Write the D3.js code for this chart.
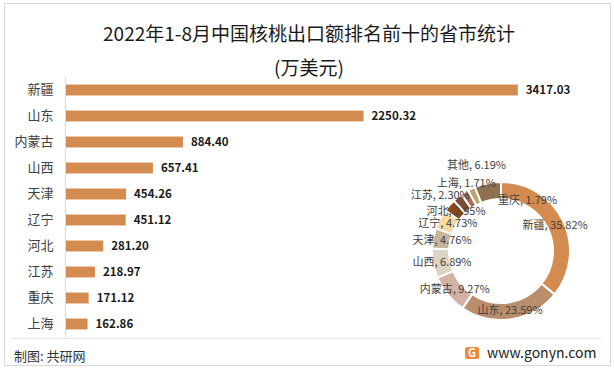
<!DOCTYPE html>
<html>
<head>
<meta charset="utf-8">
<script src="https://cdn.jsdelivr.net/npm/d3@7"></script>
<style>
  body { margin: 0; background: #fff; }
  svg text { font-family: "Noto Sans CJK SC", "Noto Sans", sans-serif; }
</style>
</head>
<body>
<div id="chart"></div>
<script>
// bar data
const provinces = ['新疆', '山东', '内蒙古', '山西', '天津', '辽宁', '河北', '江苏', '重庆', '上海'];
const exportValues = [3417.03, 2250.32, 884.40, 657.41, 454.26, 451.12, 281.20, 218.97, 171.12, 162.86];

// donut data
const shareNames = ['新疆', '山东', '内蒙古', '山西', '天津', '辽宁', '河北', '江苏', '重庆', '上海', '其他'];
const sharePercents = [35.82, 23.59, 9.27, 6.89, 4.76, 4.73, 2.95, 2.30, 1.79, 1.71, 6.19];
const shareColors = ['#D38B4F', '#BA8D6C', '#D3B3A5', '#DCD5C3', '#C8B499', '#F8D9A0',
                     '#8B4A1B', '#7B4B33', '#A86A50', '#BBA46F', '#8D7150'];
// labels that excel pushed away from the slice centroid
const labelShift = { '江苏': [-23, -9], '重庆': [58, 0], '上海': [-9, -14], '其他': [-13, -27] };

const width = 614, height = 372;
const svg = d3.select('#chart').append('svg')
  .attr('width', width)
  .attr('height', height);

// outer frame
svg.append('rect')
  .attr('x', 4.5).attr('y', 3.5)
  .attr('width', 606).attr('height', 362)
  .attr('fill', '#fff')
  .attr('stroke', '#d9d9d9');

// title
svg.append('text')
  .attr('x', 309).attr('y', 41)
  .attr('text-anchor', 'middle')
  .attr('font-size', 19)
  .attr('fill', '#1a1a1a')
  .text('2022年1-8月中国核桃出口额排名前十的省市统计');
svg.append('text')
  .attr('x', 309).attr('y', 75)
  .attr('text-anchor', 'middle')
  .attr('font-size', 19)
  .attr('fill', '#1a1a1a')
  .text('(万美元)');

// bar chart
const x = d3.scaleLinear().domain([0, 3600]).range([66, 542]);
const y = d3.scaleBand().domain(provinces).range([77, 337])
  .paddingInner(0.58).paddingOuter(0.29);

const bars = svg.append('g');
bars.selectAll('rect')
  .data(provinces)
  .enter()
  .append('rect')
  .attr('x', x(0))
  .attr('y', d => y(d))
  .attr('width', (d, i) => x(exportValues[i]) - x(0))
  .attr('height', y.bandwidth())
  .attr('fill', '#D38B4F');

bars.selectAll('.val')
  .data(provinces)
  .enter()
  .append('text')
  .attr('class', 'val')
  .attr('x', (d, i) => x(exportValues[i]) + 8)
  .attr('y', d => y(d) + y.bandwidth() / 2)
  .attr('dy', '0.36em')
  .attr('font-family', '"Noto Sans", sans-serif')
  .attr('font-weight', 'bold')
  .attr('font-size', 11.5)
  .attr('fill', '#1a1a1a')
  .text((d, i) => exportValues[i].toFixed(2));

// category axis
const yAxis = svg.append('g')
  .attr('transform', 'translate(65.5,0)')
  .call(d3.axisLeft(y).tickSize(0).tickPadding(12));
yAxis.select('.domain').attr('stroke', '#d9d9d9').attr('d', 'M0,77V337');
yAxis.selectAll('text')
  .attr('font-size', 13)
  .attr('fill', '#404040')
  .attr('font-family', '"Noto Sans CJK SC", sans-serif');

// donut
const cx = 501, cy = 251, rOuter = 69, rInner = 52;
const pie = d3.pie().value(d => d).sort(null);
const arc = d3.arc().innerRadius(rInner).outerRadius(rOuter);
const labelArc = d3.arc().innerRadius(60).outerRadius(60);
const arcs = pie(sharePercents);

const donut = svg.append('g').attr('transform', `translate(${cx},${cy})`);
donut.selectAll('path')
  .data(arcs)
  .enter()
  .append('path')
  .attr('d', arc)
  .attr('fill', (d, i) => shareColors[i])
  .attr('stroke', '#fff')
  .attr('stroke-width', 2);

donut.selectAll('text')
  .data(arcs)
  .enter()
  .append('text')
  .attr('transform', (d, i) => {
    const c = labelArc.centroid(d);
    const s = labelShift[shareNames[i]] || [0, 0];
    return `translate(${c[0] + s[0]},${c[1] + s[1]})`;
  })
  .attr('text-anchor', 'middle')
  .attr('dy', '0.35em')
  .attr('font-size', 11)
  .attr('fill', '#404040')
  .text((d, i) => shareNames[i] + ', ' + sharePercents[i].toFixed(2) + '%');

// footer
svg.append('line')
  .attr('x1', 13).attr('x2', 601)
  .attr('y1', 338.5).attr('y2', 338.5)
  .attr('stroke', '#e3e3e3');
svg.append('text')
  .attr('x', 14).attr('y', 361)
  .attr('font-size', 13)
  .attr('fill', '#333')
  .text('制图: 共研网');

// site logo
const logo = svg.append('g').attr('transform', 'translate(465,347)');
logo.append('rect')
  .attr('width', 14).attr('height', 12).attr('rx', 2)
  .attr('fill', '#F08A3C');
logo.append('text')
  .attr('x', 7).attr('y', 10)
  .attr('text-anchor', 'middle')
  .attr('font-size', 11)
  .attr('font-weight', 'bold')
  .attr('font-family', '"DejaVu Sans", sans-serif')
  .attr('fill', '#fff')
  .text('G');
svg.append('text')
  .attr('x', 487).attr('y', 358)
  .attr('font-size', 14)
  .attr('font-family', '"Noto Sans", sans-serif')
  .attr('fill', '#222')
  .text('www.gonyn.com');
</script>
</body>
</html>
